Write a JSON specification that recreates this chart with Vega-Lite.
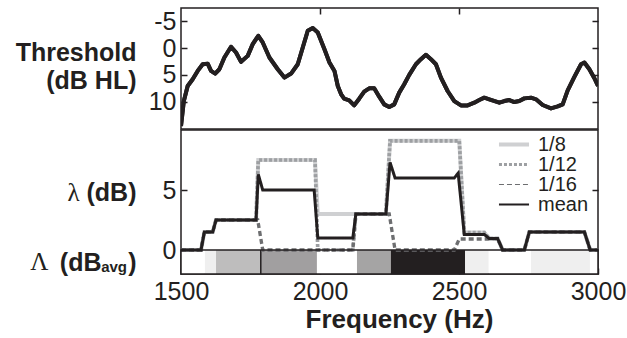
{
  "$schema": "https://vega.github.io/schema/vega-lite/v6.json",
  "padding": {"left": 14, "top": 6, "right": 0, "bottom": 0},
  "datasets": {
    "threshold": [
      {"hz": 1500, "db": 14.56}, {"hz": 1510, "db": 9.9}, {"hz": 1524, "db": 7.06}, {"hz": 1542, "db": 5.8},
      {"hz": 1560, "db": 4.25}, {"hz": 1578, "db": 3.0}, {"hz": 1596, "db": 2.9}, {"hz": 1608, "db": 4.25},
      {"hz": 1623, "db": 4.75}, {"hz": 1638, "db": 3.94}, {"hz": 1656, "db": 1.75}, {"hz": 1680, "db": -0.25},
      {"hz": 1698, "db": 0.81}, {"hz": 1716, "db": 2.56}, {"hz": 1740, "db": 1.44}, {"hz": 1758, "db": -0.75},
      {"hz": 1778, "db": -2.31}, {"hz": 1794, "db": -1.06}, {"hz": 1818, "db": 1.75}, {"hz": 1848, "db": 3.94},
      {"hz": 1872, "db": 5.5}, {"hz": 1896, "db": 4.75}, {"hz": 1920, "db": 3.0}, {"hz": 1938, "db": -0.12},
      {"hz": 1956, "db": -3.25}, {"hz": 1974, "db": -3.75}, {"hz": 1992, "db": -2.94}, {"hz": 2016, "db": 0.19},
      {"hz": 2034, "db": 2.69}, {"hz": 2052, "db": 4.25}, {"hz": 2064, "db": 7.06}, {"hz": 2076, "db": 8.62},
      {"hz": 2087, "db": 9.44}, {"hz": 2105, "db": 9.75}, {"hz": 2123, "db": 10.69}, {"hz": 2141, "db": 9.44},
      {"hz": 2159, "db": 8.12}, {"hz": 2177, "db": 7.5}, {"hz": 2195, "db": 7.5}, {"hz": 2213, "db": 9.06},
      {"hz": 2231, "db": 10.5}, {"hz": 2249, "db": 11.0}, {"hz": 2267, "db": 10.5}, {"hz": 2285, "db": 8.31},
      {"hz": 2303, "db": 6.75}, {"hz": 2321, "db": 5.0}, {"hz": 2345, "db": 3.0}, {"hz": 2363, "db": 2.06},
      {"hz": 2381, "db": 1.25}, {"hz": 2399, "db": 2.06}, {"hz": 2417, "db": 3.0}, {"hz": 2435, "db": 5.5},
      {"hz": 2459, "db": 8.0}, {"hz": 2483, "db": 9.88}, {"hz": 2507, "db": 10.69}, {"hz": 2531, "db": 10.69},
      {"hz": 2555, "db": 10.19}, {"hz": 2573, "db": 9.69}, {"hz": 2591, "db": 9.25}, {"hz": 2609, "db": 9.56},
      {"hz": 2645, "db": 10.19}, {"hz": 2663, "db": 9.88}, {"hz": 2681, "db": 9.69}, {"hz": 2699, "db": 10.06},
      {"hz": 2717, "db": 9.88}, {"hz": 2735, "db": 9.38}, {"hz": 2759, "db": 9.25}, {"hz": 2777, "db": 9.56},
      {"hz": 2801, "db": 10.62}, {"hz": 2831, "db": 11.25}, {"hz": 2855, "db": 10.88}, {"hz": 2873, "db": 10.5},
      {"hz": 2891, "db": 7.88}, {"hz": 2915, "db": 5.38}, {"hz": 2939, "db": 3.0}, {"hz": 2951, "db": 2.69},
      {"hz": 2969, "db": 3.94}, {"hz": 2987, "db": 5.62}, {"hz": 3000, "db": 7.06}
    ],
    "lambda": [
      {"series": "1/8", "hz": 1500, "val": 0}, {"series": "1/8", "hz": 1572, "val": 0}, {"series": "1/8", "hz": 1584, "val": 1.5},
      {"series": "1/8", "hz": 1614, "val": 1.5}, {"series": "1/8", "hz": 1626, "val": 2.5}, {"series": "1/8", "hz": 1770, "val": 2.5},
      {"series": "1/8", "hz": 1778, "val": 7.5}, {"series": "1/8", "hz": 1982, "val": 7.5}, {"series": "1/8", "hz": 1992, "val": 3},
      {"series": "1/8", "hz": 2237, "val": 3}, {"series": "1/8", "hz": 2252, "val": 9.1}, {"series": "1/8", "hz": 2501, "val": 9.1},
      {"series": "1/8", "hz": 2519, "val": 1.45}, {"series": "1/8", "hz": 2591, "val": 1.45}, {"series": "1/8", "hz": 2609, "val": 0.95},
      {"series": "1/8", "hz": 2639, "val": 0.95}, {"series": "1/8", "hz": 2657, "val": 0}, {"series": "1/8", "hz": 2735, "val": 0},
      {"series": "1/8", "hz": 2753, "val": 1.5}, {"series": "1/8", "hz": 2951, "val": 1.5}, {"series": "1/8", "hz": 2972, "val": 0},
      {"series": "1/8", "hz": 3000, "val": 0},

      {"series": "1/12", "hz": 1500, "val": 0}, {"series": "1/12", "hz": 1572, "val": 0}, {"series": "1/12", "hz": 1584, "val": 1.5},
      {"series": "1/12", "hz": 1614, "val": 1.5}, {"series": "1/12", "hz": 1626, "val": 2.5}, {"series": "1/12", "hz": 1770, "val": 2.5},
      {"series": "1/12", "hz": 1778, "val": 7.5}, {"series": "1/12", "hz": 1982, "val": 7.5}, {"series": "1/12", "hz": 1992, "val": 0},
      {"series": "1/12", "hz": 2118, "val": 0}, {"series": "1/12", "hz": 2129, "val": 3}, {"series": "1/12", "hz": 2237, "val": 3},
      {"series": "1/12", "hz": 2252, "val": 9.1}, {"series": "1/12", "hz": 2501, "val": 9.1}, {"series": "1/12", "hz": 2519, "val": 1.45},
      {"series": "1/12", "hz": 2591, "val": 1.45}, {"series": "1/12", "hz": 2609, "val": 0.95}, {"series": "1/12", "hz": 2639, "val": 0.95},
      {"series": "1/12", "hz": 2657, "val": 0}, {"series": "1/12", "hz": 2735, "val": 0}, {"series": "1/12", "hz": 2753, "val": 1.5},
      {"series": "1/12", "hz": 2951, "val": 1.5}, {"series": "1/12", "hz": 2972, "val": 0}, {"series": "1/12", "hz": 3000, "val": 0},

      {"series": "1/16", "hz": 1500, "val": 0}, {"series": "1/16", "hz": 1572, "val": 0}, {"series": "1/16", "hz": 1584, "val": 1.5},
      {"series": "1/16", "hz": 1614, "val": 1.5}, {"series": "1/16", "hz": 1626, "val": 2.5}, {"series": "1/16", "hz": 1776, "val": 2.5},
      {"series": "1/16", "hz": 1794, "val": 0}, {"series": "1/16", "hz": 2118, "val": 0}, {"series": "1/16", "hz": 2129, "val": 3},
      {"series": "1/16", "hz": 2249, "val": 3}, {"series": "1/16", "hz": 2270, "val": 0}, {"series": "1/16", "hz": 2483, "val": 0},
      {"series": "1/16", "hz": 2501, "val": 0.92}, {"series": "1/16", "hz": 2603, "val": 0.92}, {"series": "1/16", "hz": 2639, "val": 0.95},
      {"series": "1/16", "hz": 2657, "val": 0}, {"series": "1/16", "hz": 2735, "val": 0}, {"series": "1/16", "hz": 2753, "val": 1.5},
      {"series": "1/16", "hz": 2951, "val": 1.5}, {"series": "1/16", "hz": 2972, "val": 0}, {"series": "1/16", "hz": 3000, "val": 0},

      {"series": "mean", "hz": 1500, "val": 0}, {"series": "mean", "hz": 1572, "val": 0}, {"series": "mean", "hz": 1584, "val": 1.5},
      {"series": "mean", "hz": 1614, "val": 1.5}, {"series": "mean", "hz": 1626, "val": 2.5}, {"series": "mean", "hz": 1770, "val": 2.5},
      {"series": "mean", "hz": 1778, "val": 6.3}, {"series": "mean", "hz": 1794, "val": 5}, {"series": "mean", "hz": 1979, "val": 5},
      {"series": "mean", "hz": 1992, "val": 1}, {"series": "mean", "hz": 2118, "val": 1}, {"series": "mean", "hz": 2129, "val": 3},
      {"series": "mean", "hz": 2237, "val": 3}, {"series": "mean", "hz": 2252, "val": 7.3}, {"series": "mean", "hz": 2270, "val": 6},
      {"series": "mean", "hz": 2483, "val": 6}, {"series": "mean", "hz": 2497, "val": 6.4}, {"series": "mean", "hz": 2519, "val": 1.3},
      {"series": "mean", "hz": 2591, "val": 1.3}, {"series": "mean", "hz": 2609, "val": 0.95}, {"series": "mean", "hz": 2639, "val": 0.95},
      {"series": "mean", "hz": 2657, "val": 0}, {"series": "mean", "hz": 2735, "val": 0}, {"series": "mean", "hz": 2753, "val": 1.5},
      {"series": "mean", "hz": 2951, "val": 1.5}, {"series": "mean", "hz": 2972, "val": 0}, {"series": "mean", "hz": 3000, "val": 0}
    ],
    "strip": [
      {"start": 1500, "end": 1586, "lambda_avg": 0},
      {"start": 1586, "end": 1626, "lambda_avg": 0.44},
      {"start": 1626, "end": 1787, "lambda_avg": 1.77},
      {"start": 1787, "end": 1989, "lambda_avg": 2.56},
      {"start": 1989, "end": 2133, "lambda_avg": 0},
      {"start": 2133, "end": 2255, "lambda_avg": 2.45},
      {"start": 2255, "end": 2522, "lambda_avg": 6},
      {"start": 2522, "end": 2607, "lambda_avg": 0.44},
      {"start": 2607, "end": 2759, "lambda_avg": 0},
      {"start": 2759, "end": 2971, "lambda_avg": 0.44},
      {"start": 2971, "end": 3000, "lambda_avg": 0}
    ],
    "strip_frame": [{"start": 1500, "end": 3000}],
    "boundary": [{"hz": 1787}]
  },
  "vconcat": [
    {
      "width": 417,
      "height": 121,
      "layer": [
        {
          "data": {"name": "threshold"},
          "mark": {"type": "line", "color": "#231f20", "strokeWidth": 4, "strokeJoin": "round", "clip": true},
          "encoding": {
            "x": {"field": "hz", "type": "quantitative", "scale": {"domain": [1500, 3000], "nice": false, "zero": false},
                  "axis": {"orient": "top", "values": [2000, 2500], "labels": false, "tickSize": -6, "title": null}},
            "y": {"field": "db", "type": "quantitative", "scale": {"domain": [-7.5, 15.1], "reverse": true, "nice": false, "zero": false},
                  "axis": {"orient": "left", "values": [-5, 0, 5, 10], "tickSize": -6, "labelPadding": 11, "labelBaseline": "middle",
                           "labelExpr": "replace(datum.label, '−', '-')",
                           "title": ["Threshold", "(dB HL)"], "titleAngle": 0, "titleAlign": "right", "titleBaseline": "middle",
                           "titleX": -45, "titleY": 44, "titleFontSize": 25, "titleFontWeight": "bold", "titleLineHeight": 28}}
          }
        },
        {
          "data": {"name": "threshold"},
          "mark": {"type": "line", "color": "#231f20", "strokeWidth": 4, "strokeJoin": "round", "clip": true},
          "encoding": {
            "x": {"field": "hz", "type": "quantitative", "scale": {"domain": [1500, 3000], "nice": false, "zero": false}, "axis": null},
            "y": {"field": "db", "type": "quantitative", "scale": {"domain": [-7.5, 15.1], "reverse": true, "nice": false, "zero": false},
                  "axis": {"orient": "right", "values": [-5, 0, 5, 10], "labels": false, "tickSize": -6, "title": null}}
          }
        }
      ],
      "resolve": {"axis": {"x": "independent", "y": "independent"}}
    },
    {
      "width": 417,
      "height": 144,
      "layer": [
        {
          "data": {"name": "strip"},
          "mark": {"type": "rect"},
          "encoding": {
            "x": {"field": "start", "type": "quantitative", "scale": {"domain": [1500, 3000], "nice": false, "zero": false},
                  "axis": {"orient": "bottom", "values": [1500, 2000, 2500, 3000], "format": "d", "tickSize": -6, "labelPadding": 11,
                           "labelFlush": false, "title": "Frequency (Hz)", "titleFontSize": 26, "titleFontWeight": "bold",
                           "titlePadding": 2, "titleX": 218}},
            "x2": {"field": "end"},
            "y": {"datum": 0, "type": "quantitative", "scale": {"domain": [-2, 10], "nice": false, "zero": false},
                  "axis": {"orient": "left", "values": [0, 5], "tickSize": -6, "labelPadding": 11, "labelBaseline": "middle", "title": null}},
            "y2": {"datum": -2},
            "color": {"field": "lambda_avg", "type": "quantitative",
                      "scale": {"domain": [0, 6], "range": ["#ffffff", "#231f20"], "interpolate": "rgb"}, "legend": null}
          }
        },
        {
          "data": {"name": "boundary"},
          "mark": {"type": "rule", "color": "#231f20", "strokeWidth": 1.5},
          "encoding": {
            "x": {"field": "hz", "type": "quantitative", "scale": {"domain": [1500, 3000], "nice": false, "zero": false}, "axis": null},
            "y": {"datum": 0, "type": "quantitative", "scale": {"domain": [-2, 10], "nice": false, "zero": false}, "axis": null},
            "y2": {"datum": -2}
          }
        },
        {
          "data": {"name": "lambda"},
          "mark": {"type": "line", "strokeJoin": "miter"},
          "encoding": {
            "x": {"field": "hz", "type": "quantitative", "scale": {"domain": [1500, 3000], "nice": false, "zero": false}, "axis": null},
            "y": {"field": "val", "type": "quantitative", "scale": {"domain": [-2, 10], "nice": false, "zero": false},
                  "axis": {"orient": "right", "values": [0, 5], "labels": false, "tickSize": -6, "title": null}},
            "color": {"field": "series", "type": "ordinal",
                      "scale": {"domain": ["1/8", "1/12", "1/16", "mean"], "range": ["#cfd0d2", "#9d9fa2", "#6d6e70", "#231f20"]},
                      "legend": {"title": null, "orient": "none", "legendX": 323, "legendY": 4.5, "labelFontSize": 20, "labelColor": "#231f20",
                                 "symbolSize": 324, "symbolType": "M-1.67,0H1.67", "rowPadding": 0, "labelOffset": 14, "padding": 0,
                                 "encode": {"symbols": {"update": {
                                   "strokeDash": {"signal": "datum.value === '1/12' ? [3,2] : datum.value === '1/16' ? [5,3] : [1,0]"},
                                   "strokeWidth": {"signal": "datum.value === '1/8' ? 4 : datum.value === '1/12' ? 3 : datum.value === '1/16' ? 1 : 2.2"}
                                 }}}}},
            "strokeDash": {"field": "series", "type": "ordinal",
                           "scale": {"domain": ["1/8", "1/12", "1/16", "mean"], "range": [[1, 0], [3, 2], [5, 3], [1, 0]]}, "legend": null},
            "strokeWidth": {"field": "series", "type": "ordinal",
                            "scale": {"domain": ["1/8", "1/12", "1/16", "mean"], "range": [4, 3, 1, 2.2]}, "legend": null}
          }
        },
        {
          "data": {"name": "strip_frame"},
          "mark": {"type": "rect", "fill": null, "fillOpacity": 0, "stroke": "#231f20", "strokeWidth": 1.5},
          "encoding": {
            "x": {"field": "start", "type": "quantitative", "scale": {"domain": [1500, 3000], "nice": false, "zero": false}, "axis": null},
            "x2": {"field": "end"},
            "y": {"datum": 0, "type": "quantitative", "scale": {"domain": [-2, 10], "nice": false, "zero": false},
                  "axis": {"orient": "left", "values": [5, 4.999, -0.999, -1, -1.001, -1.002], "ticks": false,
                           "labelOverlap": false, "labelFlush": false, "labelBound": false, "labelBaseline": "middle", "title": null,
                           "labelExpr": "datum.value > 4.9995 ? '(dB)' : datum.value > 4 ? 'λ' : datum.value > -0.9995 ? 'Λ' : datum.value > -1.0005 ? '(dB' : datum.value > -1.0015 ? 'avg' : ')'",
                           "labelFont": {"condition": {"test": "(datum.value > 4 && datum.value < 4.9995) || (datum.value > -0.9995 && datum.value < 0)", "value": "Liberation Serif"}, "value": "Liberation Sans"},
                           "labelFontWeight": {"condition": {"test": "(datum.value > 4 && datum.value < 4.9995) || (datum.value > -0.9995 && datum.value < 0)", "value": "normal"}, "value": "bold"},
                           "labelFontSize": {"condition": {"test": "datum.value > -1.0015 && datum.value < -1.0005", "value": 15}, "value": 25},
                           "labelPadding": {"condition": [
                             {"test": "datum.value > 4.9995", "value": 45},
                             {"test": "datum.value > 4", "value": 102},
                             {"test": "datum.value > -0.9995", "value": 133},
                             {"test": "datum.value > -1.0005", "value": 80},
                             {"test": "datum.value > -1.0015", "value": 54.5}
                           ], "value": 45},
                           "labelOffset": {"condition": [
                             {"test": "datum.value > 4", "value": 2},
                             {"test": "datum.value > -1.0005", "value": 0},
                             {"test": "datum.value > -1.0015", "value": 4}
                           ], "value": 0}}},
            "y2": {"datum": -2}
          }
        }
      ],
      "resolve": {"axis": {"x": "independent", "y": "independent"}}
    }
  ],
  "spacing": -1.5,
  "config": {
    "font": "Liberation Sans",
    "view": {"stroke": "#231f20", "strokeWidth": 1.5},
    "axis": {"grid": false, "domain": false, "tickColor": "#231f20", "tickWidth": 1.5, "labelColor": "#231f20",
             "titleColor": "#231f20", "labelFontSize": 25, "labelFont": "Liberation Sans", "titleFont": "Liberation Sans"},
    "legend": {"labelFont": "Liberation Sans"}
  }
}
